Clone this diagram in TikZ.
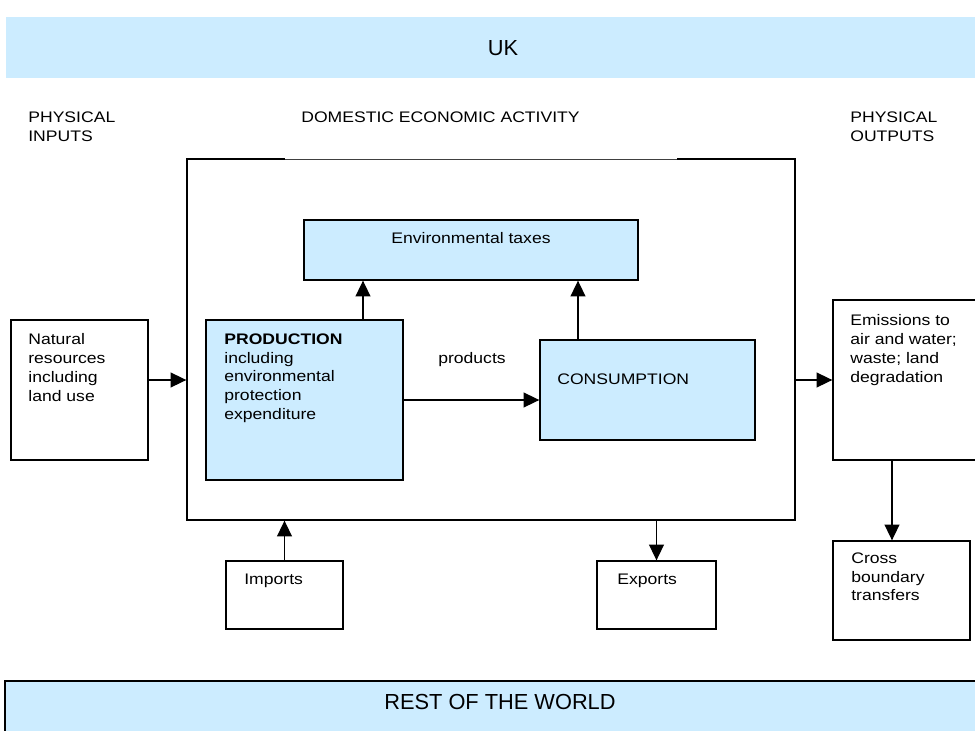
\documentclass[tikz,border=0pt]{standalone}
\usepackage{fontspec}
\setmainfont{Liberation Sans}[FakeStretch=1.15]
\newfontfamily\bandfont{Liberation Sans}
\usetikzlibrary{arrows.meta, calc, fit}

\definecolor{paleblue}{HTML}{CCECFF}

\tikzset{
  box/.style={draw, line width=0.75pt, inner sep=0pt},
  bluebox/.style={box, fill=paleblue},
  txt/.style={inner sep=0pt, anchor=north west, align=left},
  bandtxt/.style={inner sep=0pt, anchor=base, font=\bandfont\fontsize{12.4}{14}\selectfont},
  arr/.style={line width=0.75pt, -{Triangle[length=9pt,width=8.5pt]}},
}

\begin{document}
\begin{tikzpicture}[x=0.02cm, y=-0.02cm, font=\fontsize{8.7}{10.8}\selectfont]
    \useasboundingbox (0,0) rectangle (975,731);
    \clip (0,0) rectangle (975,731);

    % UK band and rest of the world band
    \fill[paleblue] (6,17) rectangle (975,78);
    \node[bandtxt] (uk) at (503,55) {UK};
    \fill[paleblue] (5,681) rectangle (975,731);
    \draw[line width=0.75pt] (975,681) -- (5,681) -- (5,731);
    \node[bandtxt] (row) at (500,709) {REST OF THE WORLD};

    % Column headings
    \node[txt] (inhead) at (28,111) {PHYSICAL\\INPUTS};
    \node[txt] (domhead) at (301,111) {DOMESTIC ECONOMIC ACTIVITY};
    \node[txt] (outhead) at (850,111) {PHYSICAL\\OUTPUTS};

    % Domestic economy frame
    \node[box, fit={(187,159) (795,520)}] (big) {};
    \draw[white, line width=0.8pt] (285,159) -- (677,159);
    \draw[black!75, line width=0.45pt] (285,159.6) -- (677,159.6);

    % Boxes
    \node[box, fit={(11,320) (148,460)}] (natural) {};
    \node[bluebox, fit={(304,220) (638,280)}] (env) {};
    \node[bluebox, fit={(206,320) (403,480)}] (prod) {};
    \node[bluebox, fit={(540,340) (755,440)}] (cons) {};
    \node[box, fit={(833,300) (977,460)}] (emiss) {};
    \node[box, fit={(833,541) (970,640)}] (cross) {};
    \node[box, fit={(226,561) (343,629)}] (imports) {};
    \node[box, fit={(597,561) (716,629)}] (exports) {};

    % Box texts
    \node[txt] (naturaltxt) at (28,333) {Natural\\resources\\including\\land use};
    \node[anchor=base] (envtxt) at (471,243) {Environmental taxes};
    \node[txt] (prodtxt) at (224,333) {\textbf{PRODUCTION}\\including\\environmental\\protection\\expenditure};
    \node[txt] (constxt) at (557,373) {CONSUMPTION};
    \node[anchor=base] (prodlabel) at (472,363) {products};
    \node[txt] (emisstxt) at (850,314) {Emissions to\\air and water;\\waste; land\\degradation};
    \node[txt] (crosstxt) at (851,552) {Cross\\boundary\\transfers};
    \node[txt] (importstxt) at (244,574) {Imports};
    \node[txt] (exportstxt) at (617,574) {Exports};

    % Flows
    \coordinate (n1) at ($(natural.east)+(0,-10)$);
    \coordinate (p1) at ($(prod.north)+(58.5,0)$);
    \coordinate (c1) at ($(cons.north)+(-69.5,0)$);
    \coordinate (e1) at ($(cross.north)+(-9.5,0)$);
    \draw[arr] (n1) -- (n1 -| big.west);
    \draw[arr] (big.east |- emiss.west) -- (emiss.west);
    \draw[arr] (p1) -- (p1 |- env.south);
    \draw[arr] (c1) -- (c1 |- env.south);
    \draw[arr] (prod.east) -- (prod.east -| cons.west);
    \draw[arr] (imports.north) -- (imports.north |- big.south);
    \draw[arr] (big.south -| exports.north) -- (exports.north);
    \draw[arr] (e1 |- emiss.south) -- (e1);
\end{tikzpicture}
\end{document}
